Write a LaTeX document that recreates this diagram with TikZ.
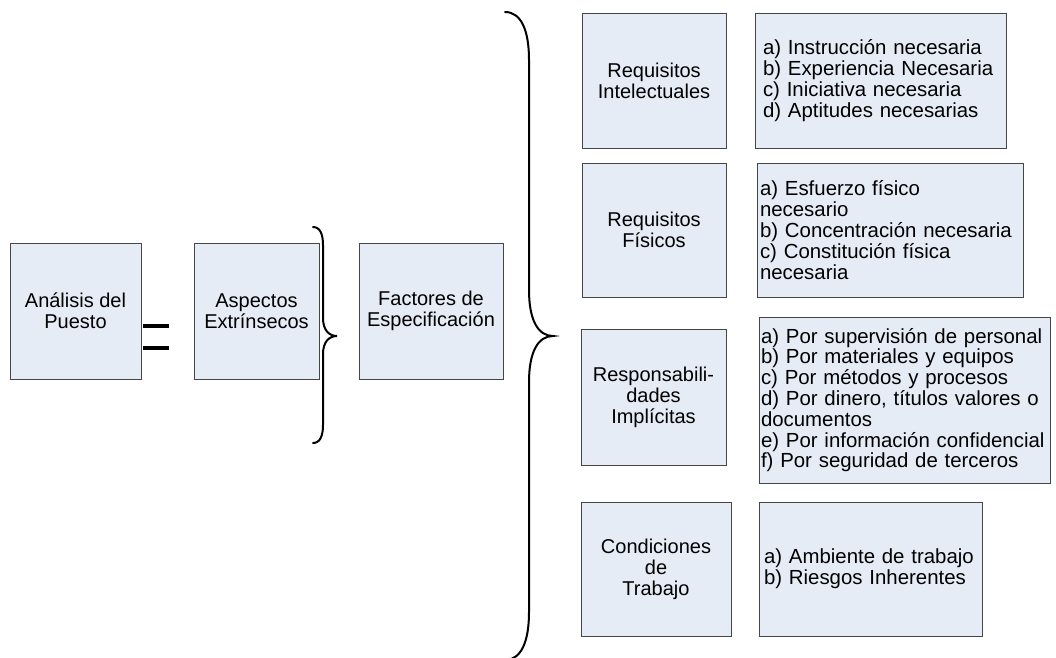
\documentclass[tikz,border=0pt]{standalone}
\usepackage{fontspec}
\setmainfont{Liberation Sans}
\definecolor{boxfill}{RGB}{230,236,246}
\definecolor{boxline}{RGB}{70,70,70}
\begin{document}
\begin{tikzpicture}[x=1pt,y=-1pt,
  box/.style={draw=boxline, line width=1pt, fill=boxfill, inner sep=0pt,
    font=\fontsize{20}{21}\selectfont},
  labelbox/.style={box, align=center},
  listbox/.style={box, align=left, inner ysep=0pt,
    font=\fontsize{20.4}{20.8}\selectfont},
  brace/.style={draw=black, line width=2pt, line cap=round},
  bar/.style={draw=black, line width=3.5pt}]
\useasboundingbox (0,0) rectangle (1056,657);

% left chain
\node[labelbox, minimum width=131pt, minimum height=136pt] (analisis) at (75.5,311) {Análisis del\\Puesto};
\node[labelbox, minimum width=125pt, minimum height=136pt] (aspectos) at (256.5,311) {Aspectos\\Extrínsecos};
\node[labelbox, minimum width=144pt, minimum height=136pt] (factores) at (431,311) {Factores de\\Especificación};

% equals sign
\draw[bar] (143,326) -- (169,326);
\draw[bar] (143,348) -- (169,348);

% small brace
\draw[brace] (313,227) .. controls (320,227) and (323,234) .. (323,245)
  -- (323,318) .. controls (323,330) and (329,336) .. (337,336)
  .. controls (329,336) and (323,342) .. (323,354)
  -- (323,425) .. controls (323,436) and (320,443) .. (313,443);

% large brace
\draw[brace] (505,12) .. controls (521,12) and (529,30) .. (529,60)
  -- (529,290) .. controls (529,320) and (538,336) .. (553,336)
  .. controls (538,336) and (529,352) .. (529,382)
  -- (529,612) .. controls (529,642) and (521,660) .. (505,660);

% right column: categories
\node[labelbox, minimum width=144pt, minimum height=135pt] (reqint) at (654,80.5) {Requisitos\\Intelectuales};
\node[labelbox, minimum width=144pt, minimum height=134pt] (reqfis) at (654,230) {Requisitos\\Físicos};
\node[labelbox, minimum width=145pt, minimum height=136pt] (resp) at (653.5,397) {Responsabili-\\dades\\Implícitas};
\node[labelbox, minimum width=150pt, minimum height=134pt] (cond) at (656,569) {Condiciones\\de\\Trabajo};

% right column: item lists
\node[listbox, inner xsep=8pt, text width=235pt, minimum height=135pt] (reqintlist) at (880.5,80.5)
  {a) Instrucción necesaria\\b) Experiencia Necesaria\\c) Iniciativa necesaria\\d) Aptitudes necesarias};
\node[listbox, inner xsep=3pt, text width=260pt, minimum height=134pt] (reqfislist) at (890,230)
  {a) Esfuerzo físico\\necesario\\b) Concentración necesaria\\c) Constitución física\\necesaria};
\node[listbox, inner xsep=2pt, text width=287pt, minimum height=166pt] (resplist) at (904.5,400)
  {a) Por supervisión de personal\\b) Por materiales y equipos\\c) Por métodos y procesos\\d) Por dinero, títulos valores o\\documentos\\e) Por información confidencial\\f) Por seguridad de terceros};
\node[listbox, inner xsep=5pt, text width=213pt, minimum height=134pt] (condlist) at (870.5,569)
  {a) Ambiente de trabajo\\b) Riesgos Inherentes};
\end{tikzpicture}
\end{document}
